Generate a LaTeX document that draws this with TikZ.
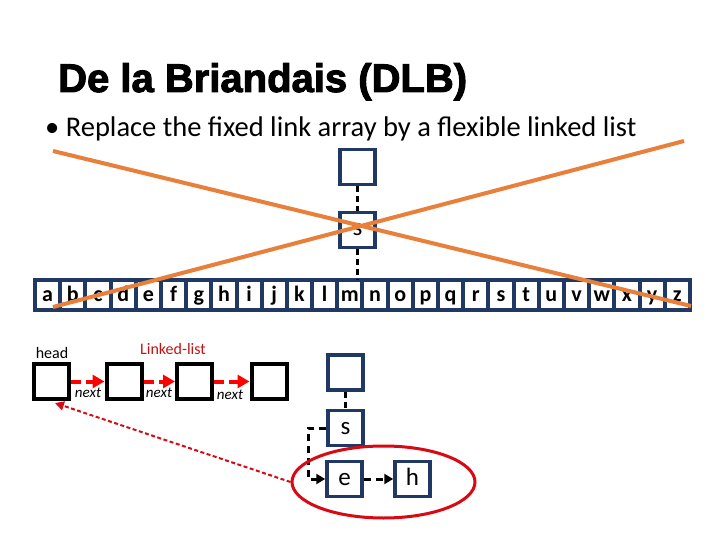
\documentclass[tikz,border=0pt]{standalone}
\usepackage{fontspec}
\setmainfont{Carlito}
\newfontfamily\titlefont[BoldFeatures={FakeBold=2.5}]{Liberation Sans}
\usetikzlibrary{arrows.meta,calc,shapes.geometric}
\definecolor{navy}{RGB}{31,56,100}
\definecolor{orng}{RGB}{232,127,58}
\definecolor{dred}{RGB}{192,20,20}
\definecolor{brd}{RGB}{215,10,20}
\begin{document}
\begin{tikzpicture}[x=1pt,y=-1pt,
  nbox/.style={draw=navy,line width=3.5pt,fill=white,minimum width=35pt,minimum height=35pt,inner sep=0pt,text height=17pt,text depth=5pt,font=\fontsize{25}{25}\selectfont},
  cell/.style={draw=navy,line width=4pt,fill=white,minimum width=25.19pt,minimum height=30pt,inner sep=0pt,text height=16pt,text depth=4pt,font=\bfseries\fontsize{22}{22}\selectfont},
  kbox/.style={draw=black,line width=4pt,fill=white,minimum width=35pt,minimum height=35pt,inner sep=0pt},
  conn/.style={draw=black,line width=2.5pt,dash pattern=on 6pt off 4pt},
  rarrow/.style={draw=red,line width=4pt,dash pattern=on 10pt off 5pt,-{Triangle[length=12pt,width=13pt]}},
  karrow/.style={draw=black,line width=3pt,dash pattern=on 7pt off 5pt,-{Triangle[length=9pt,width=10pt]}},
  lbl/.style={inner sep=0pt,font=\itshape\fontsize{15}{15}\selectfont},
  xline/.style={draw=orng,line width=4pt}
]
\useasboundingbox (0,0) rectangle (720,540);
\fill[white] (0,0) rectangle (720,540);

\node[anchor=base west,inner sep=0pt,font=\titlefont\bfseries\fontsize{40}{40}\selectfont] (title) at (58,92) {De la Briandais (DLB)};
\node[anchor=base west,inner sep=0pt,font=\fontsize{28.5}{28.5}\selectfont] (bullet) at (45,137) {\textbullet{} Replace the fixed link array by a flexible linked list};

% upper (crossed-out) structure
\node[nbox] (top1) at (357.5,167) {};
\node[nbox] (s1) at (357.5,230) {s};
\foreach \l [count=\i from 0] in {a,b,c,d,e,f,g,h,i,j,k,l,m,n,o,p,q,r,s,t,u,v,w,x,y,z}{
  \node[cell] (c\i) at ({35+(\i+0.5)*25.19},295) {\l};
}
\coordinate (arrtop) at (357.5,280);
\draw[conn] (top1.south) -- (s1.north);
\draw[conn] (s1.south) -- (arrtop);

\coordinate (xa1) at (53,151);
\coordinate (xa2) at (691,306);
\coordinate (xb1) at (684,141);
\coordinate (xb2) at (53,307);
\draw[xline] (xa1) -- (xa2);
\draw[xline] (xb1) -- (xb2);

% linked list
\node[anchor=base,inner sep=0pt,font=\fontsize{16}{16}\selectfont] (head) at (52,358) {head};
\node[anchor=base,inner sep=0pt,text=dred,font=\fontsize{16}{16}\selectfont] (ll) at (173,354) {Linked-list};
\node[kbox] (b1) at (51.5,381.5) {};
\node[kbox] (b2) at (124,381.5) {};
\node[kbox] (b3) at (194.5,381.5) {};
\node[kbox] (b4) at (269,381.5) {};
\draw[rarrow] (b1.east) -- (b2.west);
\draw[rarrow] (b2.east) -- (b3.west);
\draw[rarrow] (b3.east) -- (b4.west);
\node[lbl] (n1) at (88,393) {next};
\node[lbl] (n2) at (159,393) {next};
\node[lbl] (n3) at (230,395) {next};

% lower structure
\node[nbox] (top2) at (345.5,372.5) {};
\node[nbox] (s2) at (345.5,428) {s};
\node[nbox] (e2) at (344.5,479) {e};
\node[nbox] (h2) at (412.5,479) {h};
\draw[conn] (top2.south) -- (s2.north);
\coordinate (bend) at (308,428);
\draw[karrow] (s2.west) -- (bend) |- (e2.west);
\draw[karrow] (e2.east) -- (h2.west);

\node[draw=brd,line width=3pt,ellipse,minimum width=183pt,minimum height=72pt] (ell) at (383.5,482) {};
\coordinate (tip) at (55,403);
\draw[draw=brd,line width=2pt,dash pattern=on 4pt off 2.5pt,-{Triangle[length=9pt,width=9pt]}] (ell.west) -- (tip);
\end{tikzpicture}
\end{document}
